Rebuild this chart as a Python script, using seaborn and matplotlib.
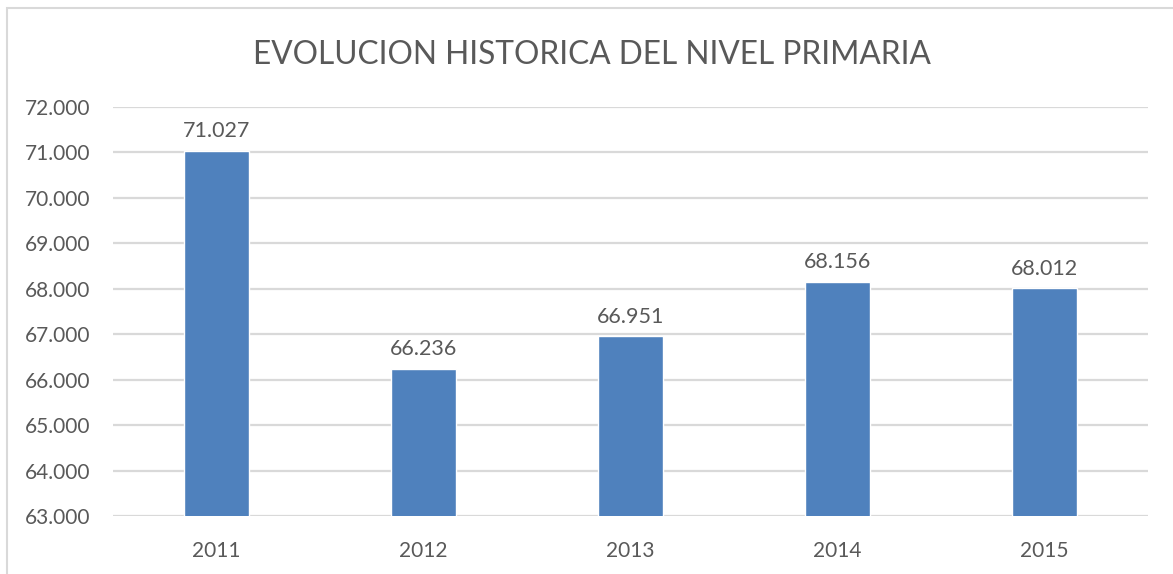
import matplotlib
matplotlib.use("Agg")
import matplotlib.pyplot as plt
import seaborn as sns
import pandas as pd
from matplotlib.patches import Rectangle

# data (alumnos, nivel primaria)
years = ["2011", "2012", "2013", "2014", "2015"]
alumnos = [71027, 66236, 66951, 68156, 68012]
y_ticks = [63000, 64000, 65000, 66000, 67000, 68000, 69000, 70000, 71000, 72000]

df = pd.DataFrame({"anio": years, "alumnos": alumnos})

sns.set_style("white")
plt.rcParams["font.family"] = ["Lato", "DejaVu Sans"]
txt = "#595959"

fig = plt.figure(figsize=(11.73, 5.74), dpi=100)
ax = fig.add_axes([0.0963, 0.101, 0.8824, 0.7126])

sns.barplot(data=df, x="anio", y="alumnos", color="#4F81BD", saturation=1,
            width=0.31, ax=ax, zorder=3)

def miles(v):
    return f"{v:,.0f}".replace(",", ".")

ax.set_ylim(63000, 72000)
ax.set_xlim(-0.5, 4.5)
ax.set_yticks(y_ticks)
ax.set_yticklabels([miles(v) for v in y_ticks])
ax.yaxis.grid(True, color="#D9D9D9", linewidth=1.6, zorder=0)
ax.set_axisbelow(True)
for s in ax.spines.values():
    s.set_visible(False)
ax.tick_params(axis="both", length=0, labelsize=15, colors=txt)
ax.tick_params(axis="y", pad=16)
ax.tick_params(axis="x", pad=18)
ax.set_xlabel("")
ax.set_ylabel("")

for i, v in enumerate(alumnos):
    ax.annotate(miles(v), (i, v), xytext=(0, 7), textcoords="offset points",
                ha="center", va="bottom", fontsize=15.5, color=txt)

fig.text(0.505, 0.904, "EVOLUCION HISTORICA DEL NIVEL PRIMARIA",
         ha="center", va="center", fontsize=22.8, color=txt)

# chart frame like the spreadsheet
fig.patches.append(Rectangle((7 / 1173, -0.05), 1.2, 1 - 8 / 574 + 0.05,
                             transform=fig.transFigure, fill=False,
                             edgecolor="#D9D9D9", linewidth=1.5))

fig.savefig("out.png", dpi=100)
